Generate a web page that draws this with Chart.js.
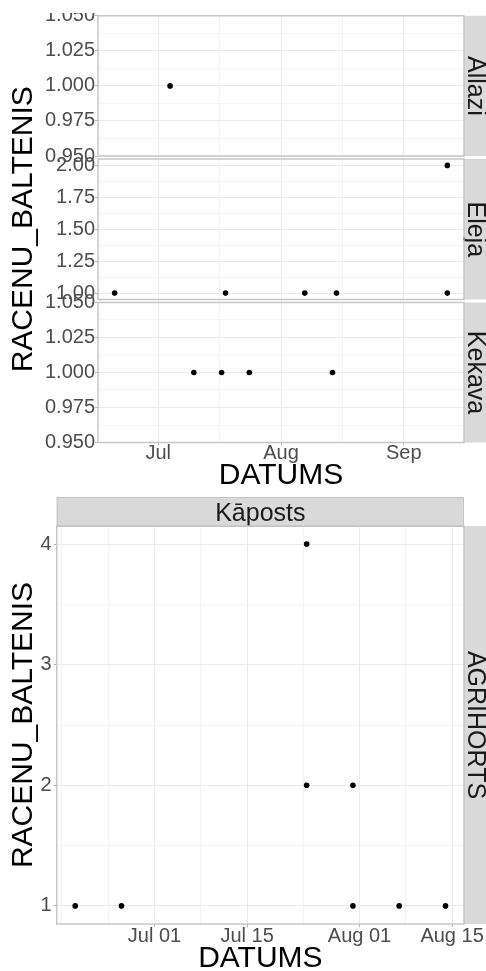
<!DOCTYPE html>
<html>
<head>
<meta charset="utf-8">
<script src="https://cdn.jsdelivr.net/npm/chart.js@4.4.0/dist/chart.umd.min.js"></script>
<style>
  html, body { margin: 0; padding: 0; width: 486px; height: 971px; overflow: hidden; background: #ffffff; }
  canvas { position: absolute; left: 0; }
</style>
</head>
<body>
<canvas id="allazi" width="494" height="487" style="top:13px"></canvas>
<canvas id="eleja" width="494" height="487" style="top:13px"></canvas>
<canvas id="kekava" width="494" height="487" style="top:13px"></canvas>
<canvas id="kaposts" width="494" height="490" style="top:490px"></canvas>
<script>
Chart.defaults.font.family = "'Liberation Sans', Arial, Helvetica, sans-serif";

const DAY_MS = 86400000;
const dayNumber = s => Date.parse(s + 'T00:00:00Z') / DAY_MS;

// Observation dates and RACENU_BALTENIS counts per site
const allaziDates  = ['2019-07-04'];
const allaziValues = [1];
const elejaDates   = ['2019-06-20', '2019-07-18', '2019-08-07', '2019-08-15', '2019-09-12', '2019-09-12'];
const elejaValues  = [1, 1, 1, 1, 2, 1];
const kekavaDates  = ['2019-07-10', '2019-07-17', '2019-07-24', '2019-08-14'];
const kekavaValues = [1, 1, 1, 1];

// Cabbage (Kāposts) at AGRIHORTS
const kapostsDates  = ['2019-06-19', '2019-06-26', '2019-07-24', '2019-07-24', '2019-07-31', '2019-07-31', '2019-08-07', '2019-08-14'];
const kapostsValues = [1, 1, 4, 2, 2, 1, 1, 1];

// Axis breaks and their labels
const siteDateBreaks = ['2019-07-01', '2019-08-01', '2019-09-01'];
const siteDateLabels = ['Jul', 'Aug', 'Sep'];
const cropDateBreaks = ['2019-07-01', '2019-07-15', '2019-08-01', '2019-08-15'];
const cropDateLabels = ['Jul 01', 'Jul 15', 'Aug 01', 'Aug 15'];
const flatBreaks  = [0.95, 0.975, 1, 1.025, 1.05];
const flatLabels  = ['0.950', '0.975', '1.000', '1.025', '1.050'];
const elejaBreaks = [1, 1.25, 1.5, 1.75, 2];
const elejaLabels = ['1.00', '1.25', '1.50', '1.75', '2.00'];
const cropBreaks  = [1, 2, 3, 4];
const cropLabels  = ['1', '2', '3', '4'];

const BORDER = '#C4C4C4';
const GRID_MAJOR = '#EBEBEB';
const GRID_MINOR = '#F4F4F4';
const TICK_MARK = '#B3B3B3';
const TICK_TEXT = '#4D4D4D';
const STRIP_FILL = '#D9D9D9';
const STRIP_TEXT = '#1A1A1A';

// 5 % padding around the data range (a single value gets 5 % of itself)
function paddedRange(values) {
  const lo = Math.min(...values), hi = Math.max(...values);
  const span = (hi - lo) || Math.abs(lo);
  return [lo - 0.05 * span, hi + 0.05 * span];
}

// Major breaks plus minor gridlines halfway between them
function breaksWithMinor(majors, labels, range) {
  const step = majors[1] - majors[0];
  const ext = [majors[0] - step, ...majors, majors[majors.length - 1] + step];
  const list = majors.map((v, i) => ({ value: v, minor: false, text: labels[i] }));
  ext.forEach((v, i) => {
    if (i > 0) list.push({ value: (ext[i - 1] + v) / 2, minor: true, text: '' });
    if (i === 0 || i === ext.length - 1) list.push({ value: v, minor: true, text: '' });
  });
  return list.filter(t => t.value >= range[0] && t.value <= range[1]).sort((a, b) => a.value - b.value);
}

// Panel border and strip backgrounds
const facetFrame = {
  id: 'facetFrame',
  beforeDraw(chart, args, opts) {
    const { ctx, chartArea: a } = chart;
    ctx.save();
    ctx.fillStyle = STRIP_FILL;
    ctx.strokeStyle = BORDER;
    ctx.lineWidth = 1;
    ctx.fillRect(a.right, a.top, chart.width - a.right, a.bottom - a.top);
    if (opts.topStrip) {
      ctx.fillRect(a.left, a.top - opts.topStrip, a.right - a.left, opts.topStrip);
      ctx.strokeRect(a.left + 0.5, a.top - opts.topStrip + 0.5, a.right - a.left - 1, opts.topStrip);
    }
    ctx.restore();
  },
  beforeDatasetsDraw(chart) {
    const { ctx, chartArea: a } = chart;
    ctx.save();
    ctx.strokeStyle = BORDER;
    ctx.lineWidth = 1.4;
    ctx.strokeRect(a.left, a.top, a.right - a.left, a.bottom - a.top);
    ctx.restore();
  }
};

function facetChart(canvasId, s) {
  const xTicks = breaksWithMinor(s.xBreaks, s.xLabels, s.xRange);
  const yTicks = breaksWithMinor(s.yBreaks, s.yLabels, s.yRange);
  const gridColor = c => (c.tick && c.tick.minor) ? GRID_MINOR : GRID_MAJOR;
  const markColor = c => (c.tick && c.tick.minor) ? 'rgba(0,0,0,0)' : TICK_MARK;
  const noPad = sc => { sc.paddingLeft = 0; sc.paddingRight = 0; sc.paddingTop = 0; sc.paddingBottom = 0; };

  return new Chart(document.getElementById(canvasId), {
    type: 'scatter',
    data: {
      datasets: [{
        data: s.dates.map((d, i) => ({ x: dayNumber(d), y: s.values[i] })),
        backgroundColor: '#000000',
        borderWidth: 0,
        pointRadius: 2.8,
        pointHoverRadius: 2.8
      }]
    },
    options: {
      responsive: false,
      animation: false,
      events: [],
      layout: { padding: s.padding },
      plugins: {
        legend: { display: false },
        tooltip: { enabled: false },
        title: s.topStrip ? {
          display: true, text: s.topStrip, position: 'top', fullSize: false, align: 'center',
          color: STRIP_TEXT, font: { size: 25, weight: 'normal', lineHeight: 0.96 },
          padding: { top: 5, bottom: 0 }
        } : { display: false },
        subtitle: {
          display: true, text: s.rightStrip, position: 'right', fullSize: false, align: 'center',
          color: STRIP_TEXT, font: { size: 25, weight: 'normal', lineHeight: 0.85 },
          padding: { top: 8.7, bottom: 0.05 }
        },
        facetFrame: { topStrip: s.topStrip ? 29 : 0 }
      },
      scales: {
        x: {
          type: 'linear', min: s.xRange[0], max: s.xRange[1], bounds: 'data',
          afterBuildTicks: sc => { sc.ticks = xTicks.map(t => ({ ...t })); },
          afterFit: sc => { sc.height = s.xHeight; noPad(sc); },
          ticks: {
            display: s.xText, autoSkip: false, maxRotation: 0, minRotation: 0,
            padding: s.xTickPad, color: TICK_TEXT, font: { size: 20, lineHeight: 0.8 },
            callback: (v, i, ts) => ts[i].text
          },
          grid: { color: gridColor, lineWidth: 1, drawTicks: s.xText, tickLength: 3, tickColor: markColor, tickWidth: 1 },
          border: { display: false },
          title: {
            display: s.xText, text: 'DATUMS', color: '#000000',
            font: { size: 30, lineHeight: 1 }, padding: { top: 0, bottom: s.xTitlePad }
          }
        },
        y: {
          type: 'linear', min: s.yRange[0], max: s.yRange[1], bounds: 'data',
          afterBuildTicks: sc => { sc.ticks = yTicks.map(t => ({ ...t })); },
          afterFit: sc => { sc.width = s.yWidth; noPad(sc); },
          ticks: {
            autoSkip: false, padding: s.yTickPad, color: TICK_TEXT, font: { size: 20, lineHeight: 1 },
            callback: (v, i, ts) => ts[i].text
          },
          grid: { color: gridColor, lineWidth: 1, drawTicks: true, tickLength: 3, tickColor: markColor, tickWidth: 1 },
          border: { display: false },
          title: {
            display: s.yTitle, text: 'RACENU_BALTENIS', color: '#000000',
            font: { size: 30, lineHeight: 1 }, padding: { top: 6.3, bottom: 0 }
          }
        }
      }
    },
    plugins: [facetFrame]
  });
}

// Shared date range for the three sites
const siteRange = paddedRange([...allaziDates, ...elejaDates, ...kekavaDates].map(dayNumber));
const siteX = {
  xBreaks: siteDateBreaks.map(dayNumber), xLabels: siteDateLabels, xRange: siteRange,
  yWidth: 96, yTickPad: 0, xTickPad: 0, xTitlePad: 1.5
};

facetChart('allazi', Object.assign({}, siteX, {
  dates: allaziDates, values: allaziValues, rightStrip: 'Allazi',
  yBreaks: flatBreaks, yLabels: flatLabels, yRange: paddedRange(allaziValues),
  padding: { left: 2, right: 0, top: 2.5, bottom: 344 }, xHeight: 0, xText: false, yTitle: false
}));

facetChart('eleja', Object.assign({}, siteX, {
  dates: elejaDates, values: elejaValues, rightStrip: 'Eleja',
  yBreaks: elejaBreaks, yLabels: elejaLabels, yRange: paddedRange(elejaValues),
  padding: { left: 2, right: 0, top: 146, bottom: 200.5 }, xHeight: 0, xText: false, yTitle: true
}));

facetChart('kekava', Object.assign({}, siteX, {
  dates: kekavaDates, values: kekavaValues, rightStrip: 'Kekava',
  yBreaks: flatBreaks, yLabels: flatLabels, yRange: paddedRange(kekavaValues),
  padding: { left: 2, right: 0, top: 289.5, bottom: 7.5 }, xHeight: 50, xText: true, yTitle: false
}));

facetChart('kaposts', {
  dates: kapostsDates, values: kapostsValues, rightStrip: 'AGRIHORTS', topStrip: 'Kāposts',
  xBreaks: cropDateBreaks.map(dayNumber), xLabels: cropDateLabels, xRange: paddedRange(kapostsDates.map(dayNumber)),
  yBreaks: cropBreaks, yLabels: cropLabels, yRange: paddedRange(kapostsValues),
  padding: { left: 2, right: 0, top: 7, bottom: 3 }, xHeight: 53, xText: true, yTitle: true,
  yWidth: 54.7, yTickPad: 2, xTickPad: 1.7, xTitlePad: 3.4
});
</script>
</body>
</html>
